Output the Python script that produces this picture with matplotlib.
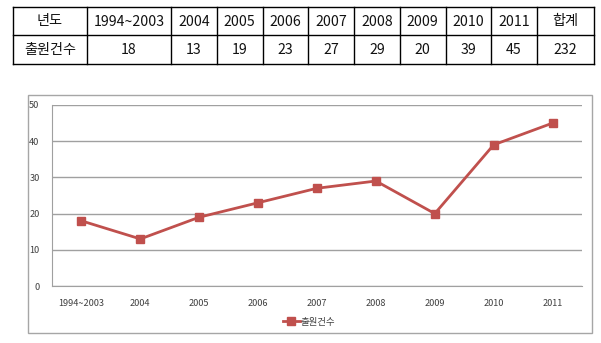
import matplotlib
matplotlib.use("Agg")
import matplotlib.pyplot as plt
from matplotlib.patches import Rectangle
from matplotlib.lines import Line2D

plt.rcParams['font.family'] = ['Noto Sans CJK KR', 'DejaVu Sans']

# Data
years = ["1994~2003", "2004", "2005", "2006", "2007", "2008", "2009", "2010", "2011"]
counts = [18, 13, 19, 23, 27, 29, 20, 39, 45]
row_header = "년도"
row_label = "출원건수"
total_label = "합계"
total_value = 232
y_ticks = [0, 10, 20, 30, 40, 50]

W, H = 601, 343
fig = plt.figure(figsize=(W / 100, H / 100), dpi=100)


def fx(px):
    return px / W


def fy(py):
    return 1 - py / H


# ---- Summary table ----
tab = fig.add_axes([0, 0, 1, 1])
tab.set_xlim(0, W)
tab.set_ylim(H, 0)
tab.axis("off")

col_edges = [13, 87, 171]
step = (537 - 171) / 8
for i in range(1, 9):
    col_edges.append(171 + step * i)
col_edges.append(594)
row_edges = [7, 35, 64]

header_cells = [row_header] + years + [total_label]
value_cells = [row_label] + [str(v) for v in counts] + [str(total_value)]

for x in col_edges:
    tab.plot([x, x], [row_edges[0], row_edges[-1]], color="black", lw=1.0)
for y in row_edges:
    tab.plot([col_edges[0], col_edges[-1]], [y, y], color="black", lw=1.0)

for i in range(len(header_cells)):
    cx = (col_edges[i] + col_edges[i + 1]) / 2
    tab.text(cx, (row_edges[0] + row_edges[1]) / 2 + 0.5, header_cells[i],
             ha="center", va="center", fontsize=10.2, color="#111111")
    tab.text(cx, (row_edges[1] + row_edges[2]) / 2 + 0.5, value_cells[i],
             ha="center", va="center", fontsize=10.2, color="#111111")

# ---- Chart frame ----
tab.add_patch(Rectangle((28, 95), 592 - 28, 333 - 95, fill=False,
                        edgecolor="#a6a6a6", lw=1.0))

# ---- Line chart ----
left, right, top, bottom = 52, 582, 105, 286
ax = fig.add_axes([fx(left), fy(bottom), fx(right - left), (bottom - top) / H])
x = list(range(len(years)))
red = "#c0504d"
ax.plot(x, counts, color=red, lw=2.0, marker="s", markersize=6,
        markerfacecolor=red, markeredgecolor=red, label=row_label, zorder=3)

ax.set_xlim(-0.5, len(years) - 0.5)
ax.set_ylim(0, 50)
ax.set_yticks(y_ticks)
ax.set_xticks(x)
ax.set_xticklabels(years)
ax.grid(axis="y", color="#a0a0a0", lw=1.0)
ax.set_axisbelow(True)
for s in ["top", "right"]:
    ax.spines[s].set_visible(False)
ax.spines["left"].set_color("#a0a0a0")
ax.spines["bottom"].set_color("#a0a0a0")
ax.tick_params(axis="both", length=0, labelsize=6.6, colors="#404040")
ax.tick_params(axis="y", pad=9)
ax.tick_params(axis="x", pad=9)

# Legend
handle = Line2D([0], [0], color=red, lw=2.0, marker="s", markersize=6,
                markerfacecolor=red, markeredgecolor=red)
fig.legend([handle], [row_label], loc="center", bbox_to_anchor=(fx(309), fy(322)),
           frameon=False, fontsize=6.8, handlelength=1.8, handletextpad=0.1,
           labelcolor="#404040")

fig.savefig("out.png", dpi=100)
